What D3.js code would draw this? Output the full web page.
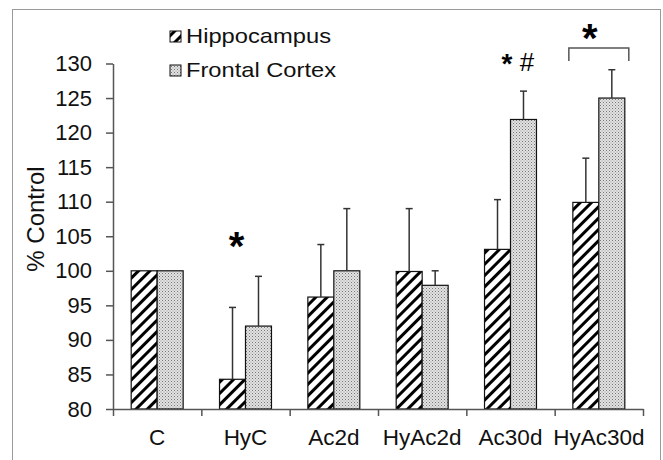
<!DOCTYPE html>
<html>
<head>
<meta charset="utf-8">
<script src="https://cdn.jsdelivr.net/npm/d3@7"></script>
<style>
  html, body { margin: 0; padding: 0; background: #fff; }
  svg { display: block; font-family: "Liberation Sans", Arial, sans-serif; }
</style>
</head>
<body>
<svg id="chart" width="663" height="460"></svg>
<script>
const categories = ["C", "HyC", "Ac2d", "HyAc2d", "Ac30d", "HyAc30d"];
const seriesNames = ["Hippocampus", "Frontal Cortex"];
const hippocampus = [100, 84.3, 96.2, 99.9, 103.1, 109.9];
const hippocampusErr = [0, 10.4, 7.6, 9.1, 7.2, 6.4];
const frontal = [100, 92.0, 100.0, 97.9, 121.9, 125.0];
const frontalErr = [0, 7.2, 9.0, 2.1, 4.1, 4.1];
const yTicks = [80, 85, 90, 95, 100, 105, 110, 115, 120, 125, 130];

const svg = d3.select("#chart");
const axisColor = "#555";

// frame
svg.append("rect").attr("x", 12.5).attr("y", 9.5).attr("width", 648).attr("height", 470)
  .attr("fill", "none").attr("stroke", "#999").attr("stroke-width", 1);

// patterns
const defs = svg.append("defs");
const hatch = defs.append("pattern").attr("id", "hatch").attr("patternUnits", "userSpaceOnUse")
  .attr("width", 8).attr("height", 8).attr("patternTransform", "rotate(45)");
hatch.append("rect").attr("width", 8).attr("height", 8).attr("fill", "#fff");
hatch.append("rect").attr("x", 0).attr("y", 0).attr("width", 3).attr("height", 8).attr("fill", "#000");

const dots = defs.append("pattern").attr("id", "dots").attr("patternUnits", "userSpaceOnUse")
  .attr("width", 3).attr("height", 3);
dots.append("rect").attr("width", 3).attr("height", 3).attr("fill", "#e2e2e2");
dots.append("rect").attr("x", 0).attr("y", 0).attr("width", 1).attr("height", 1).attr("fill", "#777");
dots.append("rect").attr("x", 1.5).attr("y", 1.5).attr("width", 1).attr("height", 1).attr("fill", "#999");

const x0 = d3.scaleBand().domain(categories).range([113, 643]).paddingInner(0).paddingOuter(0);
const x1 = d3.scaleBand().domain(seriesNames).range([0, x0.bandwidth()]).paddingInner(0).paddingOuter(0.7);
const y = d3.scaleLinear().domain([80, 130]).range([409, 63.5]);

const fills = { "Hippocampus": "url(#hatch)", "Frontal Cortex": "url(#dots)" };
const data = [];
categories.forEach((c, i) => {
  data.push({ cat: c, s: "Hippocampus", v: hippocampus[i], e: hippocampusErr[i] });
  data.push({ cat: c, s: "Frontal Cortex", v: frontal[i], e: frontalErr[i] });
});

// bars
svg.append("g").selectAll("rect").data(data).join("rect")
  .attr("x", d => x0(d.cat) + x1(d.s))
  .attr("y", d => y(d.v))
  .attr("width", x1.bandwidth())
  .attr("height", d => y(80) - y(d.v))
  .attr("fill", d => fills[d.s])
  .attr("stroke", "#111").attr("stroke-width", 1.2);

// error bars
const eb = svg.append("g").attr("stroke", "#333").attr("stroke-width", 1.5);
data.filter(d => d.e > 0).forEach(d => {
  const cx = x0(d.cat) + x1(d.s) + x1.bandwidth() / 2;
  eb.append("line").attr("x1", cx).attr("x2", cx).attr("y1", y(d.v)).attr("y2", y(d.v + d.e));
  eb.append("line").attr("x1", cx - 3.5).attr("x2", cx + 3.5).attr("y1", y(d.v + d.e)).attr("y2", y(d.v + d.e));
});

// y axis
const yAxis = svg.append("g").attr("transform", "translate(113,0)")
  .call(d3.axisLeft(y).tickValues(yTicks).tickSize(7).tickPadding(14).tickSizeOuter(0));
yAxis.select(".domain").attr("stroke", axisColor).attr("stroke-width", 1.5);
yAxis.selectAll(".tick line").attr("stroke", axisColor).attr("stroke-width", 1.5);
yAxis.selectAll(".tick text").attr("font-size", 22).attr("fill", "#111")
  .attr("font-family", "Liberation Sans, Arial, sans-serif");

// x axis
const boundaries = categories.map(c => x0(c)).concat([x0.range()[1]]);
const xScaleLin = d3.scaleLinear().domain([113, 643]).range([113, 643]);
const xAxis = svg.append("g").attr("transform", "translate(0,409)")
  .call(d3.axisBottom(xScaleLin).tickValues(boundaries).tickSize(7).tickSizeOuter(0).tickFormat(""));
xAxis.select(".domain").attr("stroke", axisColor).attr("stroke-width", 1.5);
xAxis.selectAll(".tick line").attr("stroke", axisColor).attr("stroke-width", 1.5);

svg.append("g").selectAll("text").data(categories).join("text")
  .attr("x", d => x0(d) + x0.bandwidth() / 2)
  .attr("y", 445)
  .attr("text-anchor", "middle")
  .attr("font-size", 22.5)
  .attr("fill", "#111")
  .text(d => d);

// y title
svg.append("text")
  .attr("transform", "translate(44,219) rotate(-90)")
  .attr("text-anchor", "middle")
  .attr("font-size", 24)
  .attr("fill", "#111")
  .text("% Control");

// legend
const legend = svg.append("g");
seriesNames.forEach((s, i) => {
  const yy = 43 + i * 34;
  legend.append("rect").attr("x", 170).attr("y", yy - 12).attr("width", 11).attr("height", 11)
    .attr("fill", fills[s]).attr("stroke", "#111").attr("stroke-width", 1);
  legend.append("text").attr("x", 186).attr("y", yy).attr("font-size", 21)
    .attr("textLength", i === 0 ? 145 : 150).attr("lengthAdjust", "spacingAndGlyphs")
    .attr("fill", "#111").text(s);
});

// significance marks
svg.append("text").attr("x", x0("HyC") + x0.bandwidth() / 2 - 9).attr("y", 260)
  .attr("text-anchor", "middle").attr("font-size", 40).attr("font-weight", "bold").text("*");
svg.append("text").attr("x", 507).attr("y", 73).attr("text-anchor", "middle")
  .attr("font-size", 28).attr("font-weight", "bold").text("*");
svg.append("text").attr("x", 527).attr("y", 71).attr("text-anchor", "middle")
  .attr("font-size", 26).text("#");

const bx0 = x0("HyAc30d") + x1("Hippocampus") - 4;
const bx1 = x0("HyAc30d") + x1("Frontal Cortex") + x1.bandwidth() + 4;
svg.append("path")
  .attr("d", `M${bx0},61 V48 H${bx1} V61`)
  .attr("fill", "none").attr("stroke", "#555").attr("stroke-width", 1.5);
svg.append("text").attr("x", (bx0 + bx1) / 2 - 9).attr("y", 52)
  .attr("text-anchor", "middle").attr("font-size", 40).attr("font-weight", "bold").text("*");
</script>
</body>
</html>
